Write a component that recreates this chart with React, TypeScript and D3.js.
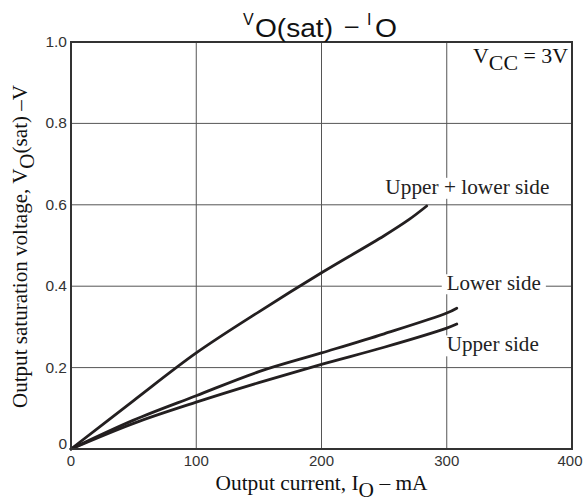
import * as d3 from "d3";
import { useEffect, useRef } from "react";

// axis ticks
const currentTicks = [0, 100, 200, 300, 400];
const voltageTicks = [0, 0.2, 0.4, 0.6, 0.8, 1.0];

// Upper + lower side
const upperLowerI = [0, 50, 100, 150, 200, 250, 270, 284];
const upperLowerV = [0, 0.119, 0.236, 0.337, 0.433, 0.524, 0.564, 0.597];

// Lower side
const lowerI = [0, 50, 100, 150, 200, 250, 300, 308];
const lowerV = [0, 0.071, 0.131, 0.19, 0.236, 0.283, 0.334, 0.346];

// Upper side
const upperI = [0, 50, 100, 150, 200, 250, 300, 308];
const upperV = [0, 0.063, 0.115, 0.163, 0.208, 0.25, 0.297, 0.307];

const series = [
  { name: "Upper + lower side", i: upperLowerI, v: upperLowerV },
  { name: "Lower side", i: lowerI, v: lowerV },
  { name: "Upper side", i: upperI, v: upperV },
];

const W = 583,
  H = 500;
const margin = { top: 42, right: 11, bottom: 51, left: 71 };

const App = () => {
  const svgRef = useRef<SVGSVGElement>(null);

  useEffect(() => {
    const svg = d3.select(svgRef.current);
    svg.selectAll("*").remove();

    const x = d3.scaleLinear().domain([0, 400]).range([margin.left, W - margin.right]);
    const y = d3.scaleLinear().domain([0, 1.0]).range([H - margin.bottom, margin.top]);

    const serif = "'Liberation Serif', 'DejaVu Serif', serif";
    const sans = "'Liberation Sans', Arial, sans-serif";

    // grid
    const grid = svg.append("g").attr("stroke", "#555").attr("stroke-width", 1);
    grid
      .selectAll("line.v")
      .data(currentTicks.slice(1, -1))
      .enter()
      .append("line")
      .attr("x1", (d) => x(d))
      .attr("x2", (d) => x(d))
      .attr("y1", y(0))
      .attr("y2", y(1));
    grid
      .selectAll("line.h")
      .data(voltageTicks.slice(1, -1))
      .enter()
      .append("line")
      .attr("x1", x(0))
      .attr("x2", x(400))
      .attr("y1", (d) => y(d))
      .attr("y2", (d) => y(d));

    // curve labels with white backing
    const labelPos = [
      { t: series[0].name, i: 251, v: 0.627, w: 164 },
      { t: series[1].name, i: 300, v: 0.39, w: 94 },
      { t: series[2].name, i: 300, v: 0.24, w: 92 },
    ];
    const labels = svg.append("g");
    labelPos.forEach((l) => {
      const g = labels.append("g");
      const txt = g
        .append("text")
        .attr("x", x(l.i))
        .attr("y", y(l.v))
        .attr("font-family", serif)
        .attr("font-size", 20)
        .attr("textLength", l.w)
        .attr("lengthAdjust", "spacingAndGlyphs")
        .attr("fill", "#222")
        .text(l.t);
      const b = (txt.node() as SVGTextElement).getBBox();
      g.insert("rect", "text")
        .attr("x", b.x - 5)
        .attr("y", b.y + 2)
        .attr("width", b.width + 10)
        .attr("height", b.height - 2)
        .attr("fill", "#fff");
    });

    // curves
    const line = d3.line<number>().curve(d3.curveCatmullRom.alpha(0.5));
    svg
      .append("g")
      .selectAll("path")
      .data(series)
      .enter()
      .append("path")
      .attr("d", (s) => line.x((_, k) => x(s.i[k])).y((d) => y(d))(s.v))
      .attr("fill", "none")
      .attr("stroke", "#231f20")
      .attr("stroke-width", 2.8)
      .attr("stroke-linecap", "round");

    // frame
    svg
      .append("rect")
      .attr("x", x(0))
      .attr("y", y(1))
      .attr("width", x(400) - x(0))
      .attr("height", y(0) - y(1))
      .attr("fill", "none")
      .attr("stroke", "#333")
      .attr("stroke-width", 2);

    // tick labels
    svg
      .append("g")
      .selectAll("text")
      .data(currentTicks)
      .enter()
      .append("text")
      .attr("x", (d) => Math.min(x(d), W - 13))
      .attr("y", y(0) + 17)
      .attr("text-anchor", "middle")
      .attr("font-family", sans)
      .attr("font-size", 15)
      .attr("fill", "#333")
      .text((d) => String(d));
    svg
      .append("g")
      .selectAll("text")
      .data(voltageTicks)
      .enter()
      .append("text")
      .attr("x", x(0) - 4)
      .attr("y", (d) => y(d) + (d === 0 ? 0 : 5))
      .attr("text-anchor", "end")
      .attr("font-family", sans)
      .attr("font-size", 15.5)
      .attr("fill", "#333")
      .text((d) => (d === 0 ? "0" : d.toFixed(1)));

    // title
    const title = svg.append("g").attr("font-family", sans).attr("fill", "#111");
    title.append("text").attr("x", 243).attr("y", 25).attr("font-size", 16).text("V");
    title
      .append("text")
      .attr("x", 255)
      .attr("y", 37)
      .attr("font-size", 26)
      .attr("textLength", 78)
      .attr("lengthAdjust", "spacingAndGlyphs")
      .text("O(sat)");
    title.append("text").attr("x", 345).attr("y", 33).attr("font-size", 24).text("–");
    title.append("text").attr("x", 367).attr("y", 25).attr("font-size", 16).text("I");
    title
      .append("text")
      .attr("x", 375)
      .attr("y", 37)
      .attr("font-size", 26)
      .attr("textLength", 22)
      .attr("lengthAdjust", "spacingAndGlyphs")
      .text("O");

    // Vcc note
    const vcc = svg
      .append("text")
      .attr("x", 473)
      .attr("y", 63)
      .attr("font-family", serif)
      .attr("font-size", 20)
      .attr("textLength", 95)
      .attr("lengthAdjust", "spacingAndGlyphs")
      .attr("fill", "#111");
    vcc.append("tspan").text("V");
    vcc.append("tspan").attr("dy", 7).text("CC");
    vcc.append("tspan").attr("dy", -7).text(" = 3V");

    // x axis title
    const xt = svg
      .append("text")
      .attr("x", (x(0) + x(400)) / 2)
      .attr("y", 490)
      .attr("text-anchor", "middle")
      .attr("font-family", serif)
      .attr("font-size", 20)
      .attr("textLength", 212)
      .attr("lengthAdjust", "spacingAndGlyphs")
      .attr("fill", "#111");
    xt.append("tspan").text("Output current, I");
    xt.append("tspan").attr("dy", 7).text("O");
    xt.append("tspan").attr("dy", -7).text(" – mA");

    // y axis title
    const yt = svg
      .append("text")
      .attr("transform", `translate(27,${(y(0) + y(1)) / 2 + 1}) rotate(-90)`)
      .attr("text-anchor", "middle")
      .attr("font-family", serif)
      .attr("font-size", 20)
      .attr("textLength", 323)
      .attr("lengthAdjust", "spacingAndGlyphs")
      .attr("fill", "#111");
    yt.append("tspan").text("Output saturation voltage, V");
    yt.append("tspan").attr("dy", 7).text("O");
    yt.append("tspan").attr("dy", -7).text("(sat) –V");
  }, []);

  return (
    <svg
      ref={svgRef}
      width={W}
      height={H}
      style={{ position: "absolute", left: 0, top: 0, background: "#fff" }}
    ></svg>
  );
};

export default App;
